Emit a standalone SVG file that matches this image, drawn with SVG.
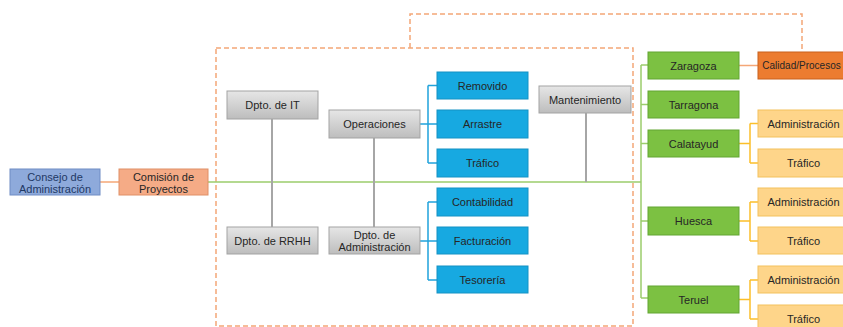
<svg xmlns="http://www.w3.org/2000/svg" width="843" height="327" viewBox="0 0 843 327">
<defs>
<linearGradient id="gray" x1="0" y1="0" x2="0" y2="1">
<stop offset="0" stop-color="#e6e6e6"/><stop offset="1" stop-color="#bdbdbd"/>
</linearGradient>
</defs>
<style>
text{font-family:"Liberation Sans",Arial,sans-serif;font-size:11px;fill:#262626;text-anchor:middle;dominant-baseline:central}
.g rect{fill:url(#gray);stroke:#a3a3a3;stroke-width:1}
.b rect{fill:#17a9e1;stroke:#1592c4;stroke-width:1}
.gr rect{fill:#7cc142;stroke:#62a532;stroke-width:1}
.y rect{fill:#fed58a;stroke:#f3c15c;stroke-width:1}
.dash{fill:none;stroke:#f4a777;stroke-width:1.5;stroke-dasharray:5 3}
.lg{stroke:#a6a6a6;stroke-width:2;fill:none}
.lb{stroke:#21a3db;stroke-width:1.5;fill:none}
.lgr{stroke:#9ccd6c;stroke-width:1.5;fill:none}
.ly{stroke:#fbbf2a;stroke-width:1.5;fill:none}
.lo{stroke:#f4a777;stroke-width:1.5;fill:none}
</style>
<g id="connectors">
<rect class="dash" x="216" y="48" width="417" height="278"/>
<path class="dash" d="M410 48 V14 H802 V52"/>
<path class="lo" d="M100 182 H119"/>
<path class="lgr" d="M208 182 H641 M641 65 V298 M641 65 H648 M641 104.5 H648 M641 143.5 H648 M641 221 H648 M641 298 H648"/>
<path class="lg" d="M272 119 V227 M374 138 V227 M586 113 V182"/>
<path class="lb" d="M420 124 H428 M428 85.5 V163 M428 85.5 H437 M428 124 H437 M428 163 H437"/>
<path class="lb" d="M420 241 H428 M428 202 V280 M428 202 H437 M428 241 H437 M428 280 H437"/>
<path class="lo" d="M739 65.5 H758"/>
<path class="ly" d="M739 143.5 H750 M750 123.5 V163 M750 123.5 H758 M750 163 H758"/>
<path class="ly" d="M739 221 H750 M750 202 V241 M750 202 H758 M750 241 H758"/>
<path class="ly" d="M739 299.5 H750 M750 280 V319 M750 280 H758 M750 319 H758"/>
</g>
<g id="consejo"><rect x="10" y="169" width="90" height="26" fill="#8eaadb" stroke="#6f8cc4"/><text x="55" y="176.5" style="fill:#1f3864">Consejo de</text><text x="55" y="188.5" style="fill:#1f3864">Administración</text></g>
<g id="comision"><rect x="119" y="169" width="89" height="26" fill="#f5ab86" stroke="#e08f66"/><text x="163.5" y="176.5">Comisión de</text><text x="163.5" y="188.5">Proyectos</text></g>
<g id="dpto-it" class="g"><rect x="227" y="91" width="91" height="28"/><text x="272.5" y="105">Dpto. de IT</text></g>
<g id="operaciones" class="g"><rect x="329" y="110" width="91" height="28"/><text x="374.5" y="124">Operaciones</text></g>
<g id="dpto-rrhh" class="g"><rect x="227" y="227" width="91" height="27"/><text x="272.5" y="240.5">Dpto. de RRHH</text></g>
<g id="dpto-admin" class="g"><rect x="329" y="227" width="91" height="27"/><text x="374.5" y="234.5">Dpto. de</text><text x="374.5" y="247">Administración</text></g>
<g id="mantenimiento" class="g"><rect x="539" y="86" width="92" height="27"/><text x="585" y="99.5">Mantenimiento</text></g>
<g id="removido" class="b"><rect x="437" y="72" width="91" height="27"/><text x="482.5" y="85.5">Removido</text></g>
<g id="arrastre" class="b"><rect x="437" y="110" width="91" height="28"/><text x="482.5" y="124">Arrastre</text></g>
<g id="trafico-op" class="b"><rect x="437" y="149" width="91" height="28"/><text x="482.5" y="163">Tráfico</text></g>
<g id="contabilidad" class="b"><rect x="437" y="188" width="91" height="28"/><text x="482.5" y="202">Contabilidad</text></g>
<g id="facturacion" class="b"><rect x="437" y="227" width="91" height="27"/><text x="482.5" y="240.5">Facturación</text></g>
<g id="tesoreria" class="b"><rect x="437" y="266" width="91" height="27"/><text x="482.5" y="279.5">Tesorería</text></g>
<g id="zaragoza" class="gr"><rect x="648" y="52" width="91" height="27"/><text x="693.5" y="65.5">Zaragoza</text></g>
<g id="tarragona" class="gr"><rect x="648" y="91" width="91" height="27"/><text x="693.5" y="104.5">Tarragona</text></g>
<g id="calatayud" class="gr"><rect x="648" y="130" width="91" height="27"/><text x="693.5" y="143.5">Calatayud</text></g>
<g id="huesca" class="gr"><rect x="648" y="207" width="91" height="28"/><text x="693.5" y="221">Huesca</text></g>
<g id="teruel" class="gr"><rect x="648" y="286" width="91" height="27"/><text x="693.5" y="299.5">Teruel</text></g>
<g id="calidad"><rect x="758" y="52" width="91" height="27" fill="#ec7c30" stroke="#c8611c"/><text x="801.5" y="65.5" style="font-size:10px">Calidad/Procesos</text></g>
<g id="cal-admin" class="y"><rect x="758" y="110" width="91" height="27"/><text x="803.5" y="123.5">Administración</text></g>
<g id="cal-trafico" class="y"><rect x="758" y="149" width="91" height="28"/><text x="803.5" y="163">Tráfico</text></g>
<g id="hue-admin" class="y"><rect x="758" y="188" width="91" height="28"/><text x="803.5" y="202">Administración</text></g>
<g id="hue-trafico" class="y"><rect x="758" y="227" width="91" height="27"/><text x="803.5" y="240.5">Tráfico</text></g>
<g id="ter-admin" class="y"><rect x="758" y="266" width="91" height="27"/><text x="803.5" y="279.5">Administración</text></g>
<g id="ter-trafico" class="y"><rect x="758" y="305" width="91" height="27"/><text x="803.5" y="318.5">Tráfico</text></g>
</svg>
